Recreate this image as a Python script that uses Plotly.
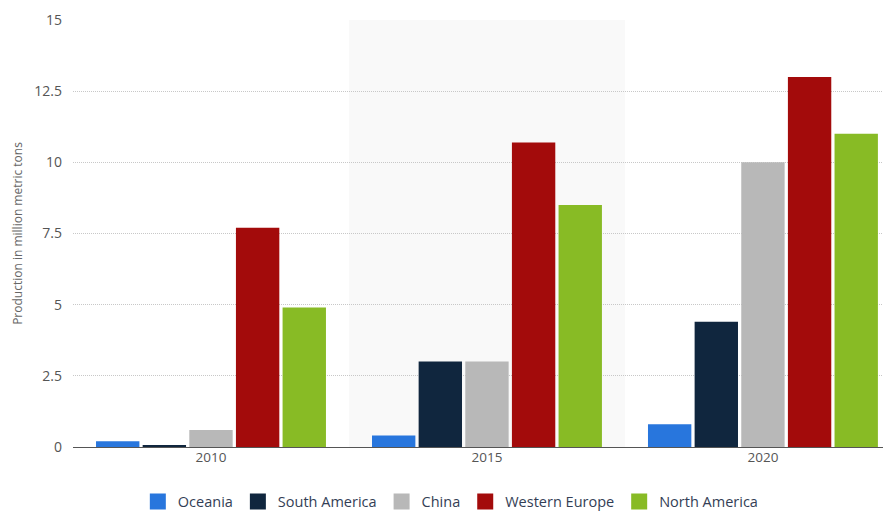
import plotly.graph_objects as go

years = ["2010", "2015", "2020"]
series_names = ["Oceania", "South America", "China", "Western Europe", "North America"]
oceania = [0.2, 0.4, 0.8]
south_america = [0.05, 3.0, 4.4]
china = [0.6, 3.0, 10.0]
western_europe = [7.7, 10.7, 13.0]
north_america = [4.9, 8.5, 11.0]
colors = ["#2876dd", "#10263e", "#b8b8b8", "#a30b0b", "#88bb25"]
y_ticks = [0, 2.5, 5, 7.5, 10, 12.5, 15]
y_tick_labels = ["0", "2.5", "5", "7.5", "10", "12.5", "15"]

values = [oceania, south_america, china, western_europe, north_america]

fig = go.Figure()
for name, vals, col in zip(series_names, values, colors):
    fig.add_trace(go.Bar(x=years, y=vals, name=name, showlegend=False,
                         marker=dict(color=col, line=dict(width=0))))
# legend entries with larger square swatches
for name, col in zip(series_names, colors):
    fig.add_trace(go.Scatter(x=[None], y=[None], mode="markers", name=name,
                             marker=dict(symbol="square", size=16, color=col)))

fig.add_shape(type="rect", xref="x", yref="paper", x0=0.5, x1=1.5, y0=0, y1=1,
              fillcolor="#f9f9f9", line=dict(width=0), layer="below")

fig.update_layout(
    width=891, height=512,
    margin=dict(l=65, r=0, t=12, b=73, autoexpand=False),
    paper_bgcolor="white", plot_bgcolor="white",
    font=dict(family="Open Sans, sans-serif", size=12, color="#555"),
    barmode="group", bargap=0.155, bargroupgap=0.07,
    showlegend=True,
    legend=dict(orientation="h", xref="container", x=0.497, xanchor="center",
                yref="container", y=0.036, yanchor="middle",
                font=dict(size=14.5, color="#333e55"), itemsizing="trace",
                traceorder="normal", bgcolor="rgba(0,0,0,0)"),
    xaxis=dict(type="category", range=[-0.5, 2.493], showgrid=False, showline=False,
               ticks="", automargin=False, tickfont=dict(size=13.5, color="#555")),
    yaxis=dict(range=[0, 15], tickvals=y_ticks, ticktext=y_tick_labels,
               showgrid=True, gridcolor="#c8c8c8", griddash="1px,1px", gridwidth=1,
               zeroline=True, zerolinecolor="#555", zerolinewidth=1.2,
               tickfont=dict(size=14, color="#555"), ticks="", ticklabelstandoff=10,
               automargin=False,
               title=dict(text="Production in million metric tons",
                          font=dict(size=12, color="#666"), standoff=9)),
)

fig.write_html("out.html")
